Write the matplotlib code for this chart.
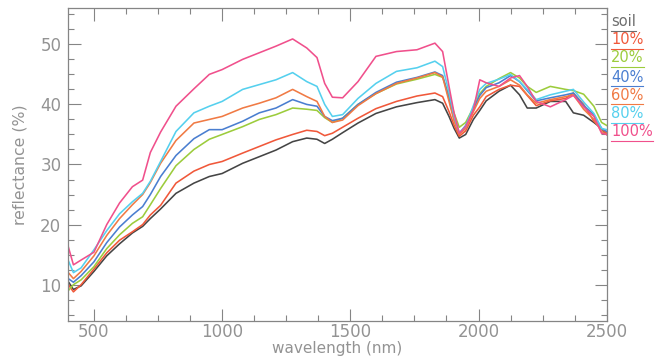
import matplotlib
matplotlib.use("Agg")
import matplotlib.pyplot as plt
from matplotlib.ticker import MultipleLocator

wavelength = [400, 420, 450, 500, 550, 600, 650, 690, 720, 760, 820, 890, 950, 1000,
              1080, 1145, 1210, 1275, 1330, 1370, 1400, 1430, 1470, 1530, 1600, 1680,
              1760, 1830, 1860, 1885, 1905, 1925, 1950, 1980, 2005, 2030, 2080, 2125,
              2160, 2190, 2225, 2280, 2340, 2370, 2410, 2450, 2480, 2500]

soil = [10.5, 9.2, 9.8, 12.2, 14.8, 16.8, 18.6, 19.7, 21.0, 22.6, 25.2, 26.9, 28.0, 28.5,
        30.2, 31.3, 32.4, 33.8, 34.4, 34.2, 33.5, 34.2, 35.3, 36.9, 38.5, 39.6,
        40.3, 40.8, 40.2, 38.0, 36.0, 34.4, 35.0, 37.5, 39.0, 40.6, 42.2, 43.2,
        41.6, 39.4, 39.4, 40.5, 40.5, 38.6, 38.2, 37.0, 36.0, 35.0]
p10 = [10.0, 8.8, 10.0, 12.6, 15.3, 17.4, 18.8, 20.0, 21.6, 23.2, 26.9, 28.9, 30.0, 30.5,
       31.9, 33.0, 34.1, 35.0, 35.7, 35.5, 34.8, 35.2, 36.2, 37.7, 39.3, 40.5,
       41.4, 41.9, 41.3, 38.8, 36.5, 34.7, 35.6, 38.2, 39.6, 41.3, 42.5, 43.2,
       43.0, 41.5, 39.8, 40.6, 41.0, 41.9, 40.0, 37.2, 36.0, 35.2]
p20 = [9.0, 10.0, 10.8, 13.0, 16.0, 18.3, 20.2, 21.3, 23.3, 26.0, 29.8, 32.5, 34.2, 35.0,
       36.3, 37.5, 38.3, 39.4, 39.2, 39.0, 37.8, 37.0, 37.7, 40.0, 41.8, 43.4,
       44.2, 45.0, 44.5, 41.5, 38.5, 36.2, 37.0, 39.5, 41.8, 43.0, 44.3, 45.3,
       44.4, 43.0, 42.0, 43.0, 42.5, 42.3, 41.7, 39.7, 37.0, 36.5]
p40 = [11.0, 10.4, 11.5, 13.8, 17.0, 19.6, 21.6, 23.0, 25.0, 28.0, 31.5, 34.3, 35.8, 35.8,
       37.2, 38.6, 39.4, 40.8, 40.0, 39.7, 38.0, 37.3, 37.7, 40.0, 42.0, 43.7,
       44.5, 45.4, 44.8, 41.0, 37.5, 35.2, 36.5, 39.2, 41.5, 42.8, 43.6, 44.8,
       43.8, 42.3, 40.6, 41.1, 41.6, 41.9, 39.8, 38.3, 36.0, 35.5]
p60 = [12.0, 11.0, 12.2, 14.8, 18.2, 21.0, 23.3, 25.0, 27.0, 30.2, 34.0, 36.9, 37.5, 38.0,
       39.4, 40.2, 41.1, 42.5, 41.3, 40.5, 38.0, 37.0, 37.4, 39.8, 41.8, 43.5,
       44.4, 45.3, 44.6, 40.5, 37.2, 35.0, 36.0, 38.8, 41.0, 42.2, 43.0, 44.1,
       43.2, 41.6, 40.2, 40.8, 41.3, 41.6, 39.2, 37.5, 35.5, 35.0]
p80 = [14.0, 12.0, 12.8, 15.8, 19.0, 21.8, 23.8, 25.2, 27.2, 30.5, 35.5, 38.6, 39.7, 40.5,
       42.5, 43.3, 44.1, 45.3, 43.8, 43.0, 40.0, 38.0, 38.3, 41.0, 43.5, 45.5,
       46.1, 47.2, 46.3, 42.0, 38.0, 35.3, 36.3, 39.8, 42.5, 43.5, 44.2, 45.0,
       43.8, 42.5, 40.8, 41.6, 42.2, 42.5, 40.4, 38.5, 36.0, 35.8]
p100 = [16.3, 13.3, 14.1, 15.4, 20.0, 23.6, 26.3, 27.4, 32.0, 35.4, 39.7, 42.6, 45.0, 45.8,
        47.5, 48.6, 49.7, 50.9, 49.4, 47.8, 43.5, 41.2, 41.1, 43.8, 48.0, 48.8,
        49.1, 50.2, 48.8, 43.0, 38.5, 35.2, 36.3, 39.1, 44.1, 43.6, 43.0, 44.4,
        44.8, 43.0, 40.5, 39.6, 40.8, 41.5, 39.6, 38.0, 35.2, 35.0]

labels = ["soil", "10%", "20%", "40%", "60%", "80%", "100%"]
series = [soil, p10, p20, p40, p60, p80, p100]
colors = ["#454545", "#f0583a", "#9ccc3c", "#4a7ed0", "#f07a44", "#55d0ee", "#f0508c"]

text_color = "#939393"
frame_color = "#858585"

fig = plt.figure(figsize=(6.55, 3.57), dpi=100)
ax = fig.add_axes([68.3 / 655, 1 - 320.7 / 357, (606.7 - 68.3) / 655, (320.7 - 8.3) / 357])

for s, c in zip(series, colors):
    ax.plot(wavelength, s, color=c, lw=1.15)

ax.set_xlim(400, 2500)
ax.set_ylim(4, 56)
ax.xaxis.set_major_locator(MultipleLocator(500))
ax.xaxis.set_minor_locator(MultipleLocator(125))
ax.yaxis.set_major_locator(MultipleLocator(10))
ax.yaxis.set_minor_locator(MultipleLocator(2.5))
ax.tick_params(which="both", direction="in", top=True, right=True, color=frame_color,
               labelcolor=text_color, labelsize=12, width=0.8)
ax.tick_params(axis="x", which="major", length=9, pad=2)
ax.tick_params(axis="y", which="major", length=9, pad=5)
ax.tick_params(which="minor", length=4.5)
for sp in ax.spines.values():
    sp.set_color(frame_color)
    sp.set_linewidth(0.9)

ax.set_xlabel("wavelength (nm)", color=text_color, fontsize=11, labelpad=0)
ax.set_ylabel("reflectance (%)", color=text_color, fontsize=11.3, labelpad=9)

legend_y = [22, 40, 58, 77, 96, 114, 132]
for lab, c, yy in zip(labels, colors, legend_y):
    tc = "#6e6e6e" if lab == "soil" else c
    t = fig.text(611 / 655, 1 - yy / 357, lab, color=tc, fontsize=10.5, va="center", ha="left")
    fig.canvas.draw()
    bb = t.get_window_extent()
    fig.add_artist(plt.Line2D([bb.x0 / 655, bb.x1 / 655], [(bb.y0 - 1) / 357, (bb.y0 - 1) / 357],
                              color=tc, lw=0.8, transform=fig.transFigure))

fig.savefig("out.png", dpi=100)
